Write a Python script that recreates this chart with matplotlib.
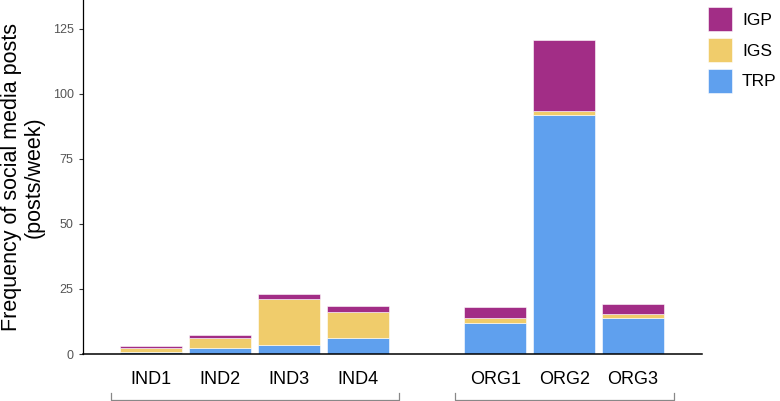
import matplotlib
matplotlib.use('Agg')
import matplotlib.pyplot as plt
import matplotlib.transforms as mtransforms

plt.rcParams['font.family'] = ['Liberation Sans', 'DejaVu Sans']

categories = ['IND1', 'IND2', 'IND3', 'IND4', 'ORG1', 'ORG2', 'ORG3']
positions = [0, 1, 2, 3, 5, 6, 7]
trp = [0.8, 2.3, 3.5, 6.0, 12.0, 91.7, 14.0]
igs = [1.5, 3.7, 17.7, 10.0, 2.0, 1.5, 1.5]
igp = [0.8, 1.2, 1.9, 2.6, 4.0, 27.6, 3.6]
groups = [('IND', 0, 3), ('ORG', 5, 7)]

colors = {'TRP': '#5fa0ee', 'IGS': '#f0cc6b', 'IGP': '#a22d86'}

fig = plt.figure(figsize=(7.8, 4.01), dpi=100)
ax = fig.add_axes([0.106, 0.117, 0.794, 0.883])

w = 0.9
bottom2 = [a + b for a, b in zip(trp, igs)]
ax.bar(positions, trp, width=w, color=colors['TRP'], edgecolor='white', linewidth=0.4, label='TRP')
ax.bar(positions, igs, width=w, bottom=trp, color=colors['IGS'], edgecolor='white', linewidth=0.4, label='IGS')
ax.bar(positions, igp, width=w, bottom=bottom2, color=colors['IGP'], edgecolor='white', linewidth=0.4, label='IGP')

ax.set_xlim(-0.99, 8.0)
ax.set_ylim(0, 136)
ax.set_yticks([0, 25, 50, 75, 100, 125])
ax.set_xticks(positions)
ax.set_xticklabels(categories, fontsize=13)
ax.tick_params(axis='x', length=0, pad=12)
ax.tick_params(axis='y', labelsize=9, labelcolor='#555555', length=3, color='#333333')
for s in ['top', 'right']:
    ax.spines[s].set_visible(False)
ax.spines['left'].set_linewidth(0.9)
ax.spines['bottom'].set_linewidth(1.1)
ax.set_ylabel('Frequency of social media posts\n(posts/week)', fontsize=15.5, labelpad=6,
              linespacing=1.1)

# group brackets below the category labels
trans = mtransforms.blended_transform_factory(ax.transData, ax.transAxes)
for name, lo, hi in groups:
    x0, x1 = lo - 0.58, hi + 0.6
    ax.plot([x0, x0, x1, x1], [-0.11, -0.13, -0.13, -0.11], transform=trans,
            color='#888888', lw=0.9, clip_on=False)

handles, labels = ax.get_legend_handles_labels()
ax.legend(handles[::-1], labels[::-1], loc='upper left', bbox_to_anchor=(0.998, 1.0),
          frameon=False, fontsize=12.5, handlelength=1.38, handleheight=1.75,
          handletextpad=0.6, labelspacing=0.4, borderaxespad=0)

fig.savefig('out.png', dpi=100)
